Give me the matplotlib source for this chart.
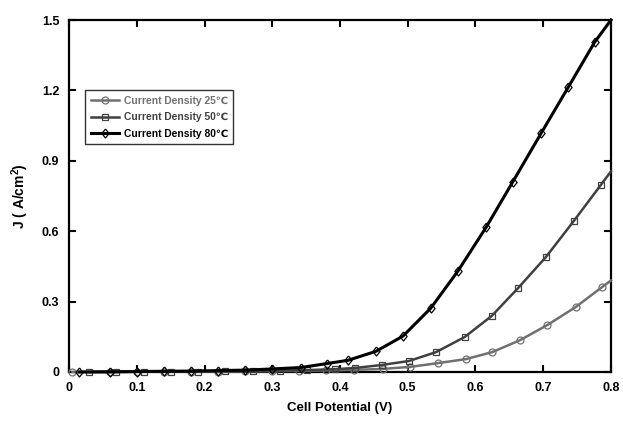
import matplotlib
matplotlib.use("Agg")
import matplotlib.pyplot as plt

plt.rcParams['font.family'] = ['Liberation Sans', 'DejaVu Sans']
plt.rcParams['font.weight'] = 'bold'
plt.rcParams['mathtext.fontset'] = 'custom'
plt.rcParams['mathtext.rm'] = 'Liberation Sans:bold'
plt.rcParams['mathtext.bf'] = 'Liberation Sans:bold'

# cell potential (V) and current density (A/cm2), last point closes the curve at the edge
v25 = [0.005, 0.06, 0.10, 0.14, 0.18, 0.22, 0.26, 0.30, 0.34, 0.38, 0.42, 0.463, 0.504,
       0.545, 0.586, 0.625, 0.666, 0.706, 0.748, 0.787, 0.80]
j25 = [0.0, 0.0, 0.001, 0.001, 0.001, 0.002, 0.003, 0.004, 0.005, 0.007, 0.009, 0.013, 0.022,
       0.038, 0.055, 0.085, 0.136, 0.200, 0.277, 0.362, 0.39]

v50 = [0.03, 0.07, 0.11, 0.15, 0.19, 0.23, 0.272, 0.311, 0.351, 0.392, 0.422, 0.462, 0.502,
       0.542, 0.584, 0.624, 0.663, 0.704, 0.745, 0.785, 0.80]
j50 = [0.0, 0.0, 0.001, 0.001, 0.002, 0.003, 0.004, 0.006, 0.008, 0.012, 0.017, 0.030, 0.047,
       0.085, 0.149, 0.239, 0.358, 0.490, 0.643, 0.797, 0.855]

v80 = [0.015, 0.06, 0.10, 0.14, 0.18, 0.22, 0.26, 0.30, 0.342, 0.381, 0.412, 0.453, 0.493,
       0.534, 0.574, 0.616, 0.655, 0.697, 0.737, 0.776, 0.80]
j80 = [0.0, 0.001, 0.002, 0.003, 0.004, 0.006, 0.008, 0.013, 0.019, 0.036, 0.050, 0.088, 0.153,
       0.272, 0.430, 0.618, 0.810, 1.018, 1.214, 1.406, 1.50]

labels = ['Current Density 25\u2103', 'Current Density 50\u2103', 'Current Density 80\u2103']
xticks = [0, 0.1, 0.2, 0.3, 0.4, 0.5, 0.6, 0.7, 0.8]
xticklabels = ['0', '0.1', '0.2', '0.3', '0.4', '0.5', '0.6', '0.7', '0.8']
yticks = [0, 0.3, 0.6, 0.9, 1.2, 1.5]
yticklabels = ['0', '0.3', '0.6', '0.9', '1.2', '1.5']

# slightly narrow diamond like the original
diamond = [(0, 1), (0.8, 0), (0, -1), (-0.8, 0), (0, 1)]

fig = plt.figure(figsize=(6.23, 4.22), dpi=100)
ax = fig.add_axes([0.1108, 0.1185, 0.8699, 0.8341])

series = [
    (v25, j25, 'o', '#707070', 1.8, 5.0),
    (v50, j50, 's', '#404040', 1.8, 5.0),
    (v80, j80, diamond, '#000000', 2.2, 6.5),
]
for (v, j, mk, col, lw, ms), lab in zip(series, labels):
    ax.plot(v, j, color=col, lw=lw, marker=mk, markersize=ms, markerfacecolor='none',
            markeredgecolor=col, markeredgewidth=0.9, markevery=list(range(len(v) - 1)),
            label=lab, clip_on=False, zorder=3)

ax.set_xlim(0, 0.8)
ax.set_ylim(0, 1.5)
ax.set_xticks(xticks)
ax.set_xticklabels(xticklabels)
ax.set_yticks(yticks)
ax.set_yticklabels(yticklabels)
ax.tick_params(direction='in', length=5, width=1.5, top=True, right=True,
               labelsize=9, pad=7)
for s in ax.spines.values():
    s.set_linewidth(1.6)

ax.set_xlabel('Cell Potential (V)', fontsize=9.5, fontweight='bold', labelpad=6)
ax.set_ylabel('J ( A/cm$^{2}$)', fontsize=10, fontweight='bold', labelpad=8)

leg = ax.legend(loc='upper left', bbox_to_anchor=(0.02, 0.815), fontsize=7.4,
                frameon=True, fancybox=False, edgecolor='black', handlelength=2.8,
                borderpad=0.55, labelspacing=0.62, handletextpad=0.4)
leg.get_frame().set_linewidth(1.0)
for txt, (_, _, _, col, _, _) in zip(leg.get_texts(), series):
    txt.set_color(col)

fig.savefig('out.png', dpi=100)
